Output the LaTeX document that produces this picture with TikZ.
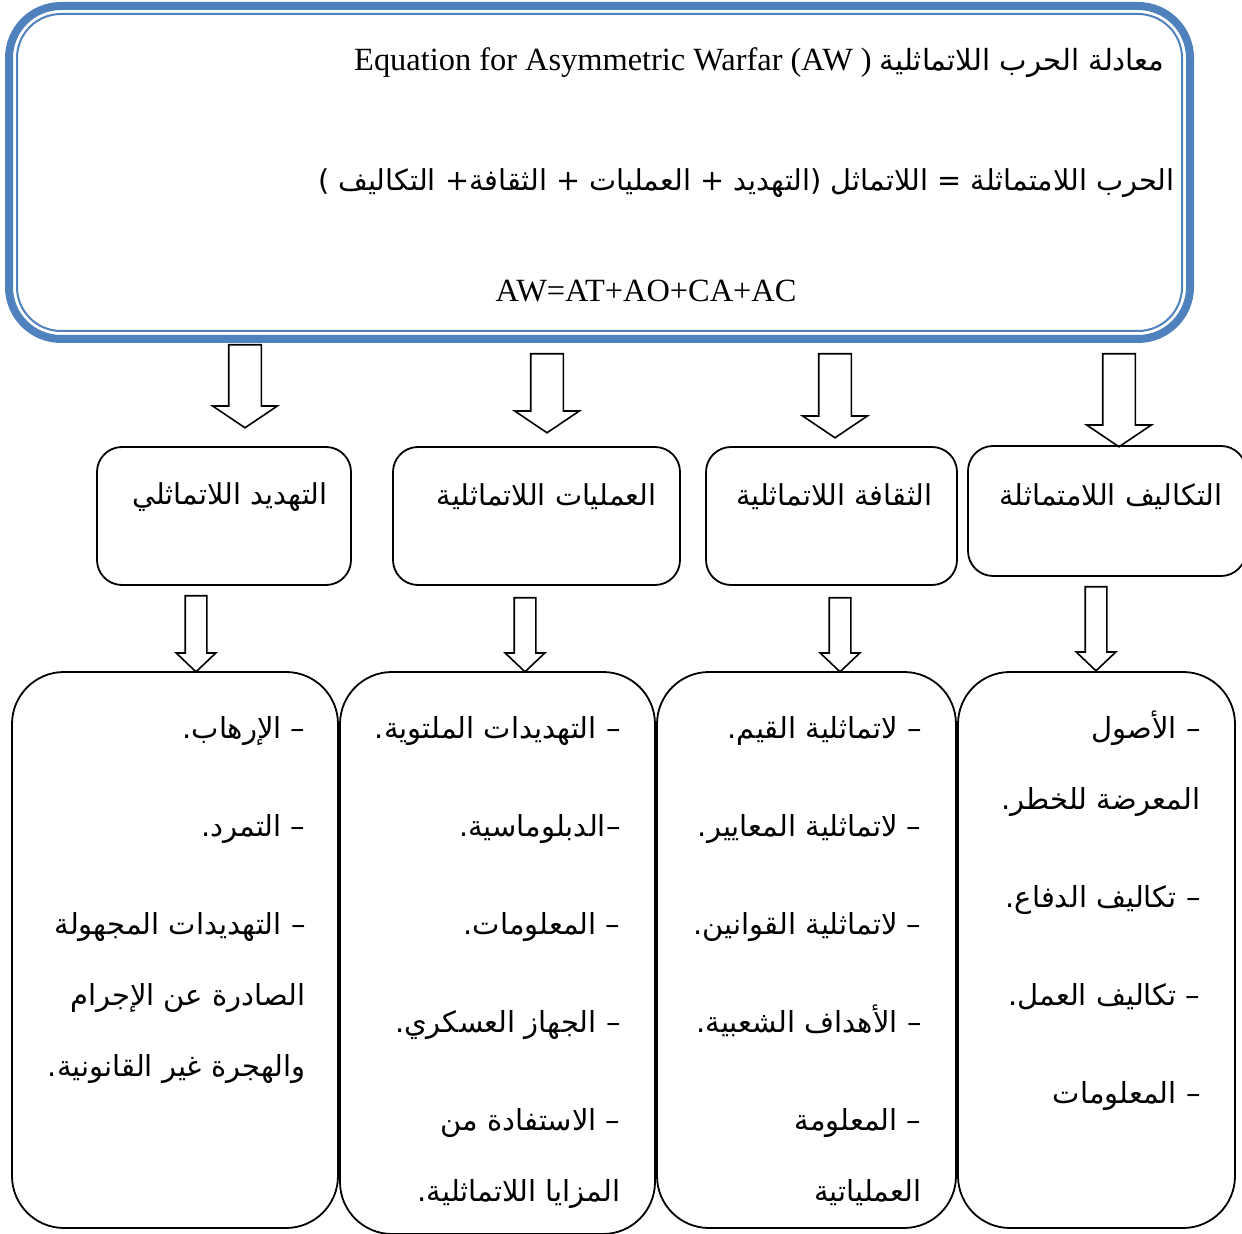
\documentclass[tikz,border=0pt]{standalone}
\usepackage{fontspec}
\setmainfont{Liberation Serif}
\newfontfamily\arabicfont[Script=Arabic]{DejaVu Sans}
\TeXXeTstate=1
\usetikzlibrary{shapes.arrows,calc}
\definecolor{eqblue}{RGB}{79,129,189}
\newcommand{\artxt}[1]{{\arabicfont\beginR #1\endR}}
\tikzset{
  % Equation frame: heavy blue rim plus thin inner rim
  eqbox/.style={draw=eqblue, rectangle, line width=4pt, rounded corners=26pt,
                minimum width=590.5pt, minimum height=166.5pt},
  eqrim/.style={draw=eqblue, line width=1pt, rounded corners=22pt},
  eqtxt/.style={font=\fontsize{16.2}{18}\selectfont, inner sep=0pt},
  % Component boxes
  headbox/.style={draw, rectangle, rounded corners=12.5pt, line width=0.9pt,
                  minimum height=69pt},
  listbox/.style={draw, rectangle, rounded corners=26pt, line width=0.9pt,
                  minimum height=278pt},
  headtxt/.style={font=\fontsize{14.4}{16}\selectfont, anchor=east, inner sep=0pt},
  listtxt/.style={font=\fontsize{14.5}{35.5}\selectfont, anchor=north east,
                  align=right, inner sep=0pt},
  % Hollow block arrows
  bigarr/.style={draw, single arrow, rotate=-90, anchor=tail, line width=0.8pt,
                 inner xsep=0pt, inner ysep=7.75pt, minimum width=0pt,
                 single arrow head extend=8pt, single arrow tip angle=112},
  smallarr/.style={bigarr, inner ysep=5pt, single arrow head extend=4.5pt,
                   single arrow tip angle=93}
}

\begin{document}
\begin{tikzpicture}[x=0.5pt, y=-0.5pt]
\useasboundingbox (0,0) rectangle (1242,1234);

% ============== EQUATION FRAME ==============
\node[eqbox] (eq) at (599.5,172.5) {};
\draw[eqrim] ($(eq.north west)+(12,12)$) rectangle ($(eq.south east)+(-12,-12)$);
\node[eqtxt, anchor=east] (eqline1) at (1165,63)
  {Equation for Asymmetric Warfar (AW ) {\fontsize{14.6}{18}\selectfont\artxt{معادلة الحرب اللاتماثلية}}};
\node[eqtxt, anchor=east, font=\fontsize{14.4}{18}\selectfont] (eqline2) at (1175,183)
  {\artxt{الحرب اللامتماثلة = اللاتماثل (التهديد +  العمليات + الثقافة+ التكاليف )}};
\node[eqtxt] (eqline3) at (646,291) {AW=AT+AO+CA+AC};

% ============== COMPONENT TITLES ==============
\node[headbox, minimum width=127pt] (threat) at (224,516) {};
\node[headbox, minimum width=143.5pt] (oper) at (536.5,516) {};
\node[headbox, minimum width=125.5pt] (cult) at (831.5,516) {};
\node[headbox, minimum width=139pt, minimum height=65pt] (cost) at (1107,511) {};

\node[headtxt] at ($(threat.north east)+(-24,51)$) {\artxt{التهديد اللاتماثلي}};
\node[headtxt] at ($(oper.north east)+(-24,51)$) {\artxt{العمليات اللاتماثلية}};
\node[headtxt] at ($(cult.north east)+(-25,51)$) {\artxt{الثقافة اللاتماثلية}};
\node[headtxt] at ($(cost.north east)+(-24,52)$) {\artxt{التكاليف اللامتماثلة}};

% frame -> titles
\node[bigarr, minimum height=41.5pt] (ar1) at (245,344) {};
\node[bigarr, minimum height=39.5pt] (ar2) at (547,353) {};
\node[bigarr, minimum height=42pt] (ar3) at (835,353) {};
\node[bigarr, minimum height=46.5pt] (ar4) at (1119,353) {};

% ============== COMPONENT LISTS ==============
\node[listbox, minimum width=163pt] (threatlist) at (175,950) {};
\node[listbox, minimum width=157.5pt, minimum height=281pt] (operlist) at (497.5,953) {};
\node[listbox, minimum width=149.5pt] (cultlist) at (806.5,950) {};
\node[listbox, minimum width=138.5pt] (costlist) at (1096.5,950) {};

% titles -> lists
\node[smallarr, minimum height=38pt] (sr1) at (196,595) {};
\node[smallarr, minimum height=37pt] (sr2) at (525,597) {};
\node[smallarr, minimum height=37pt] (sr3) at (840,597) {};
\node[smallarr, minimum height=42pt] (sr4) at (1096,586) {};

\node[listtxt] at ($(threatlist.north east)+(-33,45)$)
  {\artxt{– الإرهاب.}\\[13.5pt]
   \artxt{– التمرد.}\\[13.5pt]
   \artxt{– التهديدات المجهولة}\\
   \artxt{الصادرة عن الإجرام}\\
   \artxt{والهجرة غير القانونية.}};
\node[listtxt] at ($(operlist.north east)+(-35,45)$)
  {\artxt{– التهديدات الملتوية.}\\[13.5pt]
   \artxt{–الدبلوماسية.}\\[13.5pt]
   \artxt{– المعلومات.}\\[13.5pt]
   \artxt{– الجهاز العسكري.}\\[13.5pt]
   \artxt{– الاستفادة من}\\
   \artxt{المزايا اللاتماثلية.}};
\node[listtxt] at ($(cultlist.north east)+(-35,45)$)
  {\artxt{– لاتماثلية القيم.}\\[13.5pt]
   \artxt{– لاتماثلية المعايير.}\\[13.5pt]
   \artxt{– لاتماثلية القوانين.}\\[13.5pt]
   \artxt{– الأهداف الشعبية.}\\[13.5pt]
   \artxt{– المعلومة}\\
   \artxt{العملياتية}};
\node[listtxt] at ($(costlist.north east)+(-35,39)$)
  {\artxt{– الأصول}\\
   \artxt{المعرضة للخطر.}\\[13.5pt]
   \artxt{– تكاليف الدفاع.}\\[13.5pt]
   \artxt{– تكاليف العمل.}\\[13.5pt]
   \artxt{– المعلومات}};

\end{tikzpicture}
\end{document}
